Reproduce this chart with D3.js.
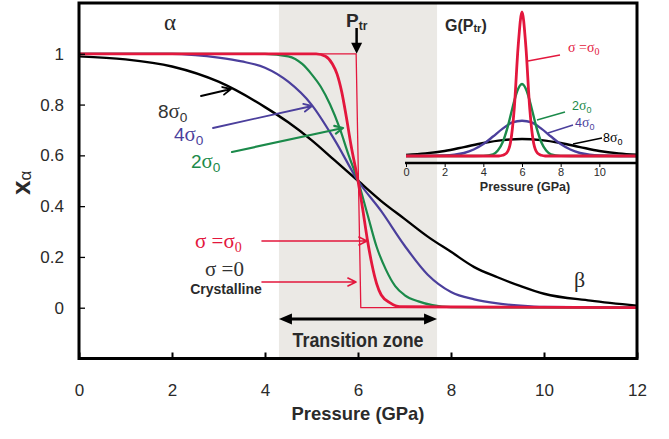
<!DOCTYPE html>
<html>
<head>
<meta charset="utf-8">
<script src="https://cdn.jsdelivr.net/npm/d3@7"></script>
<style>
  body { margin: 0; background: #fff; }
  svg { display: block; font-family: "Liberation Sans", Arial, sans-serif; }
</style>
</head>
<body>
<div id="chart"></div>
<script>
// Axis ticks
const xTicks = [0, 2, 4, 6, 8, 10, 12];
const yTicks = [0, 0.2, 0.4, 0.6, 0.8, 1];
const yTickLabels = ["0", "0.2", "0.4", "0.6", "0.8", "1"];
const insetTicks = [0, 2, 4, 6, 8, 10];

// Transition zone and transition pressure (GPa)
const zone = [4.3, 7.7];
const pTr = 5.97;

// x_alpha vs pressure
const blackP = [0, 1, 2, 3, 4, 4.5, 5, 5.5, 6, 6.5, 7, 7.5, 8, 8.5, 9, 9.5, 10, 11, 12];
const blackX = [0.99, 0.978, 0.95, 0.89, 0.79, 0.73, 0.66, 0.58, 0.5, 0.42, 0.35, 0.28, 0.22, 0.16, 0.12, 0.085, 0.055, 0.028, 0.008];

const blueP = [0, 2, 2.5, 3, 3.5, 4, 4.5, 5, 5.5, 6, 6.5, 7, 7.5, 8, 8.5, 9, 9.5, 10, 12];
const blueX = [1, 1, 0.995, 0.985, 0.97, 0.945, 0.89, 0.8, 0.66, 0.5, 0.38, 0.245, 0.13, 0.062, 0.033, 0.017, 0.008, 0.003, 0];

const greenP = [0, 4, 4.5, 4.8, 5, 5.2, 5.4, 5.6, 5.8, 6, 6.2, 6.4, 6.6, 6.8, 7, 7.3, 7.6, 8, 12];
const greenX = [1, 1, 0.99, 0.96, 0.92, 0.87, 0.8, 0.71, 0.6, 0.5, 0.37, 0.24, 0.15, 0.085, 0.05, 0.025, 0.01, 0.002, 0];

const redP = [0, 5.1, 5.3, 5.45, 5.55, 5.65, 5.75, 5.85, 6, 6.1, 6.2, 6.3, 6.4, 6.5, 6.7, 6.9, 12];
const redX = [1, 1, 0.99, 0.96, 0.92, 0.85, 0.75, 0.64, 0.5, 0.39, 0.27, 0.17, 0.095, 0.05, 0.018, 0.004, 0];

const crystP = [0, 5.96, 6.06, 12];
const crystX = [1, 1, 0, 0];

// Inset: distribution G(Ptr)
const gBlackP = [0, 1, 2, 3, 4, 5, 6, 7, 8, 9, 10, 11, 12];
const gBlackG = [0.008, 0.018, 0.035, 0.062, 0.09, 0.11, 0.118, 0.11, 0.09, 0.062, 0.035, 0.018, 0.008];

const gBlueP = [0, 1, 2, 2.5, 3, 3.5, 4, 4.5, 5, 5.5, 6, 6.5, 7, 7.5, 8, 8.5, 9, 9.5, 10, 11, 12];
const gBlueG = [0, 0, 0.003, 0.009, 0.021, 0.045, 0.083, 0.135, 0.19, 0.233, 0.245, 0.233, 0.19, 0.135, 0.083, 0.045, 0.021, 0.009, 0.003, 0, 0];

const gGreenP = [0, 3.5, 4, 4.5, 4.75, 5, 5.25, 5.5, 5.75, 6, 6.25, 6.5, 6.75, 7, 7.25, 7.5, 8, 8.5, 12];
const gGreenG = [0, 0, 0.001, 0.012, 0.038, 0.096, 0.197, 0.33, 0.45, 0.5, 0.45, 0.33, 0.197, 0.096, 0.038, 0.012, 0.001, 0, 0];

const gRedP = [0, 4.8, 5, 5.2, 5.4, 5.6, 5.8, 6, 6.2, 6.4, 6.6, 6.8, 7, 7.2, 12];
const gRedG = [0, 0, 0.005, 0.02, 0.09, 0.33, 0.76, 1, 0.76, 0.33, 0.09, 0.02, 0.005, 0, 0];

const colors = { black: "#000000", blue: "#4b3f9c", green: "#1b8a4a", red: "#e3173d", text: "#2a2a2a" };

const width = 669, height = 439;
const svg = d3.select("#chart").append("svg")
    .attr("width", width)
    .attr("height", height);

const x = d3.scaleLinear().domain([0, 12]).range([79, 637]);
const y = d3.scaleLinear().domain([-0.2, 1.2]).range([358.5, 3]);

// inset scales
const xi = d3.scaleLinear().domain([0, 12]).range([406, 638]);
const yi = d3.scaleLinear().domain([0, 1]).range([156, 12]);

svg.append("defs").append("clipPath").attr("id", "plot")
    .append("rect")
    .attr("x", x(0)).attr("y", y(1.2))
    .attr("width", x(12) - x(0)).attr("height", y(-0.2) - y(1.2));

// gray transition zone
svg.append("rect")
    .attr("x", x(zone[0]))
    .attr("y", y(1.2))
    .attr("width", x(zone[1]) - x(zone[0]))
    .attr("height", y(-0.2) - y(1.2))
    .attr("fill", "#ebe9e5");

const plot = svg.append("g").attr("clip-path", "url(#plot)");

function drawCurve(g, P, V, sx, sy, color, w, curve) {
    const line = d3.line()
        .x(d => sx(d[0]))
        .y(d => sy(d[1]))
        .curve(curve || d3.curveMonotoneX);
    g.append("path")
        .datum(d3.zip(P, V))
        .attr("d", line)
        .attr("fill", "none")
        .attr("stroke", color)
        .attr("stroke-width", w)
        .attr("stroke-linejoin", "round");
}

// main curves
drawCurve(plot, crystP, crystX, x, y, colors.red, 1.3, d3.curveLinear);
drawCurve(plot, blackP, blackX, x, y, colors.black, 2.4);
drawCurve(plot, blueP, blueX, x, y, colors.blue, 2.2);
drawCurve(plot, greenP, greenX, x, y, colors.green, 2.2);
drawCurve(plot, redP, redX, x, y, colors.red, 2.8);

// inset curves
drawCurve(plot, gBlackP, gBlackG, xi, yi, colors.black, 2.4);
drawCurve(plot, gBlueP, gBlueG, xi, yi, colors.blue, 2.4);
drawCurve(plot, gGreenP, gGreenG, xi, yi, colors.green, 2.4);
drawCurve(plot, gRedP, gRedG, xi, yi, colors.red, 2.8);

// main axes
const xAxis = svg.append("g")
    .attr("transform", `translate(0,${y(-0.2)})`)
    .call(d3.axisBottom(x).tickValues(xTicks).tickSize(-6).tickSizeOuter(0).tickPadding(25));
const yAxis = svg.append("g")
    .attr("transform", `translate(${x(0)},0)`)
    .call(d3.axisLeft(y).tickValues(yTicks).tickFormat((d, i) => yTickLabels[i]).tickSize(-6).tickSizeOuter(0).tickPadding(15));

[xAxis, yAxis].forEach(a => {
    a.select(".domain").remove();
    a.selectAll("text").attr("font-size", 17).attr("fill", colors.text).attr("font-family", "Liberation Sans, Arial, sans-serif");
    a.selectAll(".tick line").attr("stroke", "#000");
});
xAxis.selectAll(".tick line").attr("stroke-width", 2);
yAxis.selectAll(".tick line").attr("stroke-width", 1.3);

// inset axis
const insetAxis = svg.append("g")
    .attr("transform", "translate(0,163)")
    .call(d3.axisBottom(xi).tickValues(insetTicks).tickSize(4).tickSizeOuter(0).tickPadding(1));
insetAxis.select(".domain").attr("stroke", "#000").attr("stroke-width", 2.6)
    .attr("d", `M${xi(0) - 1},0H${x(12)}`);
insetAxis.selectAll("text").attr("font-size", 11).attr("fill", colors.text).attr("font-family", "Liberation Sans, Arial, sans-serif");

svg.append("text")
    .attr("x", 525).attr("y", 191)
    .attr("text-anchor", "middle")
    .attr("font-size", 12.5).attr("font-weight", "bold").attr("fill", colors.text)
    .text("Pressure (GPa)");

// frame
svg.append("rect")
    .attr("x", x(0)).attr("y", y(1.2))
    .attr("width", x(12) - x(0)).attr("height", y(-0.2) - y(1.2))
    .attr("fill", "none").attr("stroke", "#000").attr("stroke-width", 3);

// axis titles
svg.append("text")
    .attr("x", x(6)).attr("y", 420)
    .attr("text-anchor", "middle")
    .attr("font-size", 19).attr("font-weight", "bold").attr("fill", colors.text)
    .attr("textLength", 133).attr("lengthAdjust", "spacingAndGlyphs")
    .text("Pressure (GPa)");

const yTitle = svg.append("text")
    .attr("transform", "translate(30,195) rotate(-90)")
    .attr("fill", colors.text);
yTitle.append("tspan").attr("font-size", 26).attr("font-weight", "bold").text("x");
yTitle.append("tspan").attr("font-size", 17).attr("dy", 1).text("α");

// arrow helpers
function openArrow(x1, y1, x2, y2, color, w) {
    const a = Math.atan2(y2 - y1, x2 - x1), L = 9, s = 0.45;
    svg.append("path")
        .attr("d", `M${x1},${y1}L${x2},${y2}` +
            `M${x2 - L * Math.cos(a - s)},${y2 - L * Math.sin(a - s)}L${x2},${y2}` +
            `L${x2 - L * Math.cos(a + s)},${y2 - L * Math.sin(a + s)}`)
        .attr("fill", "none").attr("stroke", color).attr("stroke-width", w)
        .attr("stroke-linecap", "round").attr("stroke-linejoin", "round");
}
function headFilled(x2, y2, a, color, L, hw) {
    const bx = x2 - L * Math.cos(a), by = y2 - L * Math.sin(a);
    const px = -Math.sin(a) * hw, py = Math.cos(a) * hw;
    svg.append("path")
        .attr("d", `M${x2},${y2}L${bx + px},${by + py}L${bx - px},${by - py}Z`)
        .attr("fill", color);
}

// transition zone double arrow
const zy = 319;
svg.append("line")
    .attr("x1", x(zone[0]) + 6).attr("x2", x(zone[1]) - 6)
    .attr("y1", zy).attr("y2", zy)
    .attr("stroke", "#000").attr("stroke-width", 3);
headFilled(x(zone[0]), zy, Math.PI, "#000", 13, 5.5);
headFilled(x(zone[1]), zy, 0, "#000", 13, 5.5);
svg.append("text")
    .attr("x", x(6)).attr("y", 347)
    .attr("text-anchor", "middle")
    .attr("font-size", 20).attr("font-weight", "bold").attr("fill", colors.text)
    .attr("textLength", 131).attr("lengthAdjust", "spacingAndGlyphs")
    .text("Transition zone");

// P_tr arrow
svg.append("line")
    .attr("x1", x(pTr)).attr("x2", x(pTr))
    .attr("y1", 28).attr("y2", 44)
    .attr("stroke", "#000").attr("stroke-width", 2.5);
headFilled(x(pTr), y(1), Math.PI / 2, "#000", 11, 5.5);
const ptr = svg.append("text")
    .attr("x", 346).attr("y", 27)
    .attr("font-weight", "bold").attr("fill", colors.text);
ptr.append("tspan").attr("font-size", 19).text("P");
ptr.append("tspan").attr("font-size", 12).attr("dy", 3).text("tr");

// phase labels
svg.append("text").attr("x", 164).attr("y", 30)
    .attr("font-family", "Liberation Serif, serif").attr("font-size", 23).attr("fill", colors.text).text("α");
svg.append("text").attr("x", 574).attr("y", 287)
    .attr("font-family", "Liberation Serif, serif").attr("font-size", 22).attr("fill", colors.text).text("β");

// sigma labels
function sigmaLabel(tx, ty, num, color, size, sub) {
    const t = svg.append("text").attr("x", tx).attr("y", ty).attr("fill", color).attr("font-size", size);
    if (num) t.append("tspan").text(num);
    t.append("tspan").attr("font-family", "Liberation Serif, serif").attr("font-size", size * 1.1).text("σ");
    t.append("tspan").attr("font-size", size * 0.72).attr("dy", size * 0.2).text(sub);
    return t;
}

sigmaLabel(158, 118, "8", "#333", 19, "0");
openArrow(201, 96, 231, 89, colors.black, 1.8);
sigmaLabel(174, 141, "4", colors.blue, 19, "0");
openArrow(213, 128, 312, 106, colors.blue, 1.8);
sigmaLabel(191, 168, "2", colors.green, 19, "0");
openArrow(232, 152, 343, 128, colors.green, 2.2);

// sigma = sigma0 and crystalline labels
const s0 = svg.append("text").attr("x", 195).attr("y", 248).attr("fill", colors.red)
    .attr("font-family", "Liberation Serif, serif").attr("font-size", 21);
s0.append("tspan").text("σ =σ");
s0.append("tspan").attr("font-size", 14).attr("dy", 4).text("0");
openArrow(262, 241, 367, 241, colors.red, 1.6);

svg.append("text").attr("x", 205).attr("y", 276).attr("fill", "#333")
    .attr("font-family", "Liberation Serif, serif").attr("font-size", 21).text("σ =0");
svg.append("text").attr("x", 226).attr("y", 294).attr("text-anchor", "middle")
    .attr("fill", colors.text).attr("font-size", 14).attr("font-weight", "bold").text("Crystalline");
openArrow(262, 282, 356, 282, colors.red, 1.6);

// inset labels
const g0 = svg.append("text").attr("x", 445).attr("y", 31).attr("font-weight", "bold").attr("fill", colors.text);
g0.append("tspan").attr("font-size", 16).text("G(P");
g0.append("tspan").attr("font-size", 11).attr("dy", 1).text("tr");
g0.append("tspan").attr("font-size", 16).attr("dy", -1).text(")");

function leader(x1, y1, x2, y2, color) {
    svg.append("line").attr("x1", x1).attr("y1", y1).attr("x2", x2).attr("y2", y2)
        .attr("stroke", color).attr("stroke-width", 1.4);
}
const is0 = svg.append("text").attr("x", 568).attr("y", 52).attr("fill", colors.red)
    .attr("font-family", "Liberation Serif, serif").attr("font-size", 14);
is0.append("tspan").text("σ =σ");
is0.append("tspan").attr("font-size", 10).attr("dy", 3).text("0");
leader(528, 61, 560, 55, colors.red);

sigmaLabel(572, 110, "2", colors.green, 12.5, "0");
leader(537, 120, 565, 112, colors.green);
sigmaLabel(575, 127, "4", colors.blue, 12.5, "0");
leader(548, 133, 573, 125, colors.blue);
sigmaLabel(603, 142, "8", colors.black, 12.5, "0");
leader(573, 144, 602, 138, colors.black);
</script>
</body>
</html>
